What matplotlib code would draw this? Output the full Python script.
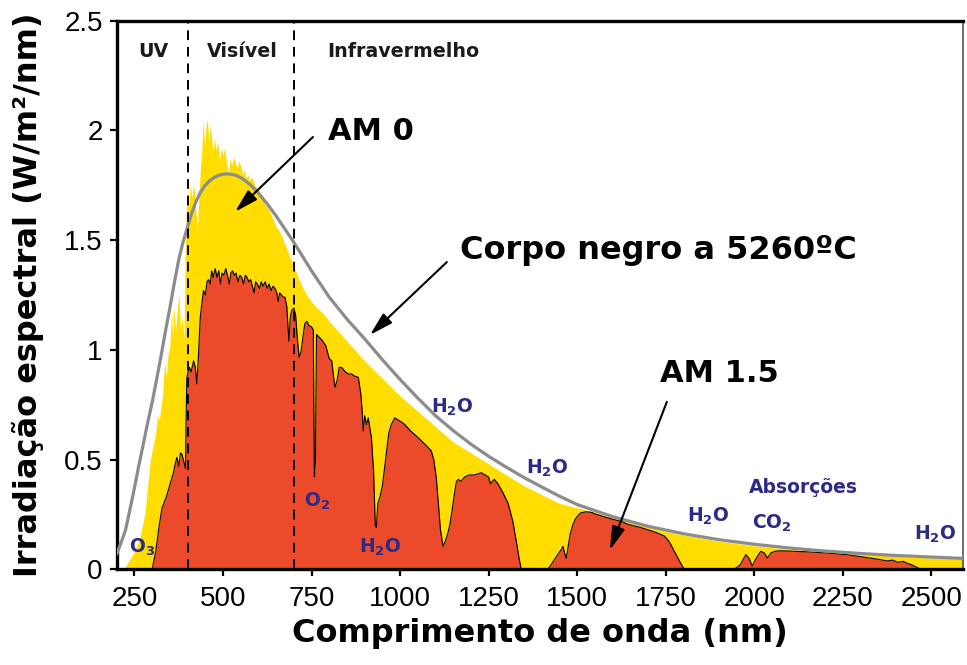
import matplotlib
matplotlib.use('Agg')
import matplotlib.pyplot as plt

# Blackbody curve (5260 ºC)
bb_nm = [200, 212, 225, 237, 250, 262, 275, 287, 300, 312, 325, 337, 350, 362, 375,
         387, 400, 412, 425, 437, 450, 462, 475, 487, 500, 512, 525, 537, 550, 562,
         575, 587, 600, 625, 650, 675, 700, 725, 750, 775, 800, 825, 850, 875, 900,
         950, 1000, 1050, 1100, 1150, 1200, 1250, 1300, 1350, 1400, 1450, 1500, 1600,
         1700, 1800, 1900, 2000, 2100, 2200, 2300, 2400, 2500, 2600]
bb_val = [0.07, 0.12, 0.18, 0.27, 0.37, 0.47, 0.57, 0.665, 0.76, 0.86, 0.97, 1.08,
          1.19, 1.30, 1.41, 1.49, 1.56, 1.625, 1.68, 1.72, 1.75, 1.77, 1.785, 1.795,
          1.80, 1.802, 1.80, 1.795, 1.785, 1.772, 1.755, 1.736, 1.715, 1.665, 1.61,
          1.55, 1.49, 1.425, 1.36, 1.30, 1.24, 1.19, 1.14, 1.095, 1.05, 0.955, 0.865,
          0.78, 0.70, 0.632, 0.57, 0.515, 0.465, 0.418, 0.375, 0.333, 0.295, 0.24,
          0.196, 0.162, 0.135, 0.114, 0.097, 0.083, 0.072, 0.063, 0.056, 0.049]

# AM 0 spectrum (yellow)
am0_nm = [220, 235, 250, 265, 280, 290, 295, 300, 310, 315, 320, 330, 335, 340, 345,
          350, 355, 358, 362, 366, 370, 375, 380, 385, 390, 393, 396, 400, 404, 408,
          412, 416, 420, 424, 428, 432, 436, 440, 444, 448, 452, 456, 460, 464, 468,
          472, 476, 480, 485, 490, 495, 500, 505, 510, 515, 520, 525, 530, 535, 540,
          545, 550, 555, 560, 565, 570, 575, 580, 590, 600, 610, 620, 630, 640, 650,
          660, 670, 680, 690, 700, 710, 720, 740, 760, 780, 800, 850, 900, 950, 1000,
          1050, 1100, 1150, 1200, 1250, 1300, 1350, 1400, 1450, 1500, 1550, 1600,
          1650, 1700, 1750, 1800, 1900, 2000, 2100, 2200, 2300, 2400, 2500, 2600]
am0_val = [0.0, 0.04, 0.08, 0.14, 0.26, 0.42, 0.50, 0.54, 0.62, 0.70, 0.68, 0.80, 0.95,
           0.88, 0.98, 1.02, 1.18, 1.05, 1.20, 1.08, 1.16, 1.26, 1.10, 1.15, 1.05, 1.40,
           1.62, 1.73, 1.66, 1.76, 1.69, 1.75, 1.72, 1.62, 1.55, 1.70, 1.82, 1.90, 2.04,
           1.93, 2.02, 2.05, 1.94, 2.03, 1.96, 1.90, 1.97, 1.91, 1.95, 1.86, 1.92, 1.89,
           1.92, 1.85, 1.80, 1.87, 1.84, 1.88, 1.85, 1.83, 1.86, 1.84, 1.80, 1.82, 1.78,
           1.80, 1.77, 1.79, 1.75, 1.73, 1.69, 1.66, 1.64, 1.60, 1.56, 1.54, 1.50, 1.46,
           1.42, 1.38, 1.34, 1.30, 1.24, 1.20, 1.17, 1.13, 1.04, 0.95, 0.87, 0.79, 0.72,
           0.65, 0.58, 0.53, 0.48, 0.43, 0.38, 0.34, 0.30, 0.28, 0.26, 0.235, 0.213,
           0.192, 0.173, 0.156, 0.128, 0.107, 0.091, 0.078, 0.068, 0.059, 0.052, 0.046]

# AM 1.5 spectrum (red)
am15_nm = [300, 310, 320, 328, 340, 351, 360, 365, 370, 375, 380, 384, 388, 394, 396,
           398, 405, 410, 417, 422, 426, 430, 436, 441, 445, 450, 455, 459, 464, 468,
           472, 478, 483, 488, 493, 497, 502, 508, 514, 518, 522, 527, 532, 537, 542,
           548, 553, 558, 563, 568, 573, 578, 583, 588, 592, 597, 603, 608, 613, 619,
           625, 630, 636, 641, 647, 652, 656, 660, 665, 670, 675, 680, 686, 690, 694,
           700, 705, 710, 715, 720, 725, 731, 737, 743, 750, 755, 758, 761, 764, 770,
           779, 790, 800, 807, 812, 816, 822, 828, 835, 845, 855, 863, 872, 882, 889,
           893, 896, 900, 905, 910, 914, 919, 925, 930, 933, 937, 943, 950, 956, 962,
           968, 975, 985, 995, 1005, 1013, 1030, 1051, 1070, 1088, 1095, 1102, 1108,
           1114, 1121, 1128, 1134, 1140, 1146, 1152, 1159, 1165, 1171, 1182, 1195, 1210,
           1229, 1240, 1250, 1255, 1260, 1266, 1276, 1290, 1305, 1318, 1328, 1336, 1342,
           1417, 1430, 1445, 1455, 1460, 1465, 1469, 1474, 1480, 1488, 1495, 1505, 1511,
           1525, 1539, 1555, 1565, 1575, 1586, 1600, 1615, 1630, 1643, 1660, 1680, 1699,
           1715, 1730, 1746, 1760, 1774, 1788, 1802, 1943, 1960, 1976, 1985, 1994, 2005,
           2018, 2028, 2037, 2047, 2060, 2075, 2100, 2130, 2169, 2200, 2230, 2263, 2290,
           2310, 2330, 2356, 2375, 2390, 2405, 2420, 2431, 2445, 2460, 2469, 2600]
am15_val = [0.0, 0.08, 0.20, 0.28, 0.33, 0.39, 0.44, 0.48, 0.51, 0.47, 0.53, 0.525, 0.50,
            0.46, 0.70, 0.875, 0.92, 0.90, 0.95, 0.92, 0.845, 0.95, 1.15, 1.22, 1.27, 1.25,
            1.31, 1.32, 1.30, 1.36, 1.33, 1.37, 1.33, 1.36, 1.30, 1.35, 1.34, 1.37, 1.33,
            1.30, 1.35, 1.36, 1.34, 1.35, 1.31, 1.34, 1.33, 1.30, 1.34, 1.33, 1.31, 1.32,
            1.29, 1.26, 1.31, 1.30, 1.28, 1.31, 1.29, 1.31, 1.28, 1.30, 1.27, 1.29, 1.28,
            1.26, 1.22, 1.26, 1.25, 1.24, 1.24, 1.20, 1.04, 1.15, 1.18, 1.19, 1.16, 1.05,
            0.965, 0.99, 1.05, 1.12, 1.13, 1.11, 1.105, 1.09, 0.42, 0.50, 1.07, 1.06, 1.045,
            1.02, 0.96, 0.95, 0.88, 0.83, 0.86, 0.92, 0.92, 0.90, 0.89, 0.89, 0.88, 0.875,
            0.80, 0.72, 0.63, 0.70, 0.66, 0.69, 0.65, 0.60, 0.45, 0.20, 0.19, 0.30, 0.33,
            0.38, 0.46, 0.54, 0.62, 0.66, 0.69, 0.68, 0.67, 0.66, 0.63, 0.60, 0.57, 0.54,
            0.50, 0.42, 0.30, 0.18, 0.105, 0.13, 0.16, 0.20, 0.26, 0.33, 0.40, 0.41, 0.40,
            0.42, 0.43, 0.43, 0.44, 0.43, 0.42, 0.39, 0.40, 0.41, 0.39, 0.35, 0.30, 0.22,
            0.128, 0.05, 0.0, 0.0, 0.03, 0.067, 0.09, 0.105, 0.07, 0.05, 0.10, 0.16, 0.204,
            0.23, 0.25, 0.258, 0.262, 0.26, 0.25, 0.245, 0.24, 0.235, 0.228, 0.222, 0.215,
            0.205, 0.198, 0.19, 0.18, 0.172, 0.163, 0.152, 0.125, 0.082, 0.04, 0.0, 0.0,
            0.02, 0.067, 0.05, 0.015, 0.05, 0.082, 0.075, 0.052, 0.075, 0.083, 0.084, 0.083,
            0.081, 0.078, 0.075, 0.071, 0.066, 0.06, 0.055, 0.05, 0.044, 0.038, 0.042,
            0.032, 0.036, 0.028, 0.02, 0.008, 0.0, 0.0]

x_ticks = [250, 500, 750, 1000, 1250, 1500, 1750, 2000, 2250, 2500]
y_ticks = [0, 0.5, 1, 1.5, 2, 2.5]
y_tick_labels = ['0', '0.5', '1', '1.5', '2', '2.5']

# Region labels (text, x) and absorption labels (text, x, y)
regions = [('UV', 304), ('Visível', 555), ('Infravermelho', 1010)]
absorptions = [(r'$\mathbf{O_3}$', 271, 0.10), (r'$\mathbf{O_2}$', 765, 0.31),
               (r'$\mathbf{H_2O}$', 943, 0.10), (r'$\mathbf{H_2O}$', 1146, 0.736),
               (r'$\mathbf{H_2O}$', 1414, 0.462), (r'$\mathbf{H_2O}$', 1871, 0.243),
               ('Absorções', 2139, 0.371), (r'$\mathbf{CO_2}$', 2049, 0.211),
               (r'$\mathbf{H_2O}$', 2512, 0.161)]

yellow = '#FFDD00'
red = '#EB4A2B'
navy = '#2B2A85'

plt.rcParams['mathtext.fontset'] = 'dejavusans'

fig = plt.figure(figsize=(9.67, 6.65), dpi=100)
ax = fig.add_axes([0.1207, 0.1439, 0.8755, 0.825])

# Spectra
ax.fill_between(am0_nm, am0_val, 0, color=yellow, lw=0, zorder=1)
ax.fill_between(am15_nm, am15_val, 0, color=red, lw=0, zorder=2)
ax.plot(am15_nm, am15_val, color='black', lw=0.8, zorder=3)
ax.plot(bb_nm, bb_val, color='#8c8c8c', lw=2.3, zorder=4, solid_capstyle='round',
        solid_joinstyle='round')

# UV / visible / IR limits
for xv in [400, 700]:
    ax.axvline(xv, color='black', lw=1.4, ls=(0, (5, 3.5)), zorder=5)

ax.set_xlim(200, 2590)
ax.set_ylim(0, 2.5)
ax.set_xticks(x_ticks)
ax.set_yticks(y_ticks)
ax.set_yticklabels(y_tick_labels)
ax.tick_params(axis='both', direction='out', length=5, width=1.6, labelsize=20,
               color='black')
ax.tick_params(axis='x', pad=7)
ax.tick_params(axis='y', pad=5)
for lab in ax.get_xticklabels() + ax.get_yticklabels():
    lab.set_fontfamily('Liberation Sans')

for side in ['left', 'bottom', 'top']:
    ax.spines[side].set_linewidth(2.4)
ax.spines['right'].set_linewidth(1.2)
ax.spines['right'].set_color('#555555')

ax.set_xlabel('Comprimento de onda (nm)', fontsize=23, fontweight='bold',
              fontfamily='DejaVu Sans')
ax.set_ylabel('Irradiação espectral (W/m²/nm)', fontsize=23, fontweight='bold',
              fontfamily='DejaVu Sans')
ax.xaxis.set_label_coords(0.5, -0.088)
ax.yaxis.set_label_coords(-0.086, 0.5)

for txt, xv in regions:
    ax.text(xv, 2.36, txt, ha='center', va='center', fontsize=13.7, fontweight='bold',
            fontfamily='DejaVu Sans', color='#1a1a1a', zorder=6)

for txt, xv, yv in absorptions:
    ax.text(xv, yv, txt, ha='center', va='center', fontsize=13.5, fontweight='bold',
            fontfamily='DejaVu Sans', color=navy, zorder=6)

# Callouts
big = dict(fontweight='bold', fontfamily='DejaVu Sans', color='black',
           va='center', ha='left', zorder=7)
ax.text(796, 1.995, 'AM 0', fontsize=22, **big)
ax.text(1170, 1.453, 'Corpo negro a 5260ºC', fontsize=23, **big)
ax.text(1733, 0.892, 'AM 1.5', fontsize=22, **big)

arrow = dict(arrowstyle='-|>,head_length=0.65,head_width=0.18', color='black', lw=1.5,
             mutation_scale=22, shrinkA=0, shrinkB=0)
ax.annotate('', xy=(534, 1.629), xytext=(754, 1.97), arrowprops=arrow, zorder=7)
ax.annotate('', xy=(915, 1.068), xytext=(1132, 1.40), arrowprops=arrow, zorder=7)
ax.annotate('', xy=(1592, 0.088), xytext=(1753, 0.763), arrowprops=arrow, zorder=7)

fig.savefig('out.png', dpi=100)
